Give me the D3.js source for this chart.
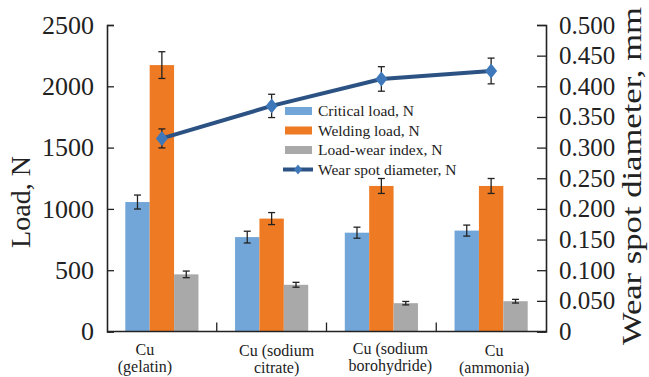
<!DOCTYPE html>
<html>
<head>
<meta charset="utf-8">
<script src="https://cdn.jsdelivr.net/npm/d3@7/dist/d3.min.js"></script>
<style>
  html, body { margin: 0; padding: 0; background: #fff; }
  svg { display: block; }
  text { font-family: "Liberation Serif", "Times New Roman", serif; fill: #222; }
</style>
</head>
<body>
<svg id="chart" width="649" height="377"></svg>
<script>
// ---- Data ----
const categories = [["Cu", "(gelatin)"], ["Cu (sodium", "citrate)"], ["Cu (sodium", "borohydride)"], ["Cu", "(ammonia)"]];
const seriesNames = ["Critical load, N", "Welding load, N", "Load-wear index, N"];
const criticalLoad = [1056, 770, 806, 823];
const criticalErr = [57, 48, 45, 45];
const weldingLoad = [2173, 921, 1187, 1187];
const weldingErr = [109, 49, 61, 61];
const loadWearIndex = [466, 381, 231, 247];
const loadWearErr = [27, 20, 14, 15];
const lineName = "Wear spot diameter, N";
const wearSpot = [0.315, 0.368, 0.412, 0.425];
const wearSpotErr = [0.0155, 0.019, 0.020, 0.021];
const leftTicks = [0, 500, 1000, 1500, 2000, 2500];
const rightTicks = [0, 0.05, 0.10, 0.15, 0.20, 0.25, 0.30, 0.35, 0.40, 0.45, 0.50];

// ---- Layout / style ----
const colors = ["#72a6d8", "#ee7a24", "#a9a9a9"];
const lineColor = "#2b5283";
const diamondColor = "#3f78ba";
const labelShift = [-17, 5, 9, 3];

const svg = d3.select("#chart");
const mLeft = 107, mRight = 546, mTop = 25, mBottom = 331.5;

const x = d3.scaleBand().domain(d3.range(categories.length)).range([mLeft, mRight]);
const x1 = d3.scaleBand().domain(d3.range(seriesNames.length)).range([0, x.bandwidth()]).paddingInner(0).paddingOuter(0.75);
const yL = d3.scaleLinear().domain([0, 2500]).range([mBottom, mTop]);
const yR = d3.scaleLinear().domain([0, 0.5]).range([mBottom, mTop]);

const barSeries = [
  { vals: criticalLoad, errs: criticalErr },
  { vals: weldingLoad, errs: weldingErr },
  { vals: loadWearIndex, errs: loadWearErr }
];

// bars
barSeries.forEach((s, si) => {
  svg.append("g").selectAll("rect").data(s.vals).join("rect")
    .attr("x", (d, i) => x(i) + x1(si))
    .attr("y", d => yL(d))
    .attr("width", x1.bandwidth())
    .attr("height", d => yL(0) - yL(d))
    .attr("fill", colors[si]);
});
// bar error bars
barSeries.forEach((s, si) => {
  const g = svg.append("g").attr("stroke", "#222").attr("stroke-width", 1.3);
  s.vals.forEach((v, i) => {
    const cx = x(i) + x1(si) + x1.bandwidth() / 2;
    const y1 = yL(v + s.errs[i]), y2 = yL(v - s.errs[i]);
    g.append("line").attr("x1", cx).attr("x2", cx).attr("y1", y1).attr("y2", y2);
    g.append("line").attr("x1", cx - 3.5).attr("x2", cx + 3.5).attr("y1", y1).attr("y2", y1);
    g.append("line").attr("x1", cx - 3.5).attr("x2", cx + 3.5).attr("y1", y2).attr("y2", y2);
  });
});

// axes
const axL = svg.append("g").attr("transform", `translate(${mLeft},0)`)
  .call(d3.axisLeft(yL).tickValues(leftTicks).tickSize(-7).tickPadding(13).tickFormat(d3.format("d")));
const axR = svg.append("g").attr("transform", `translate(${mRight},0)`)
  .call(d3.axisRight(yR).tickValues(rightTicks).tickSize(-9).tickPadding(13).tickFormat(d => d === 0 ? "0" : d3.format(".3f")(d)));
const axB = svg.append("g").attr("transform", `translate(0,${mBottom})`)
  .call(d3.axisBottom(x).tickSize(0).tickFormat(""));
[axL, axR, axB].forEach(a => {
  a.select(".domain").attr("stroke", "#222").attr("stroke-width", 1.6);
  a.selectAll(".tick line").attr("stroke", "#222").attr("stroke-width", 1.3);
});
axL.selectAll(".tick text").attr("font-size", 26).attr("fill", "#222").attr("font-family", "Liberation Serif");
axR.selectAll(".tick text").attr("font-size", 25).attr("fill", "#222").attr("font-family", "Liberation Serif");
axB.select(".domain").attr("d", `M${mLeft},0H${mRight}`);

// category dividers
svg.append("g").selectAll("line").data(d3.range(1, categories.length)).join("line")
  .attr("x1", i => x(i)).attr("x2", i => x(i))
  .attr("y1", mBottom).attr("y2", mBottom - 9)
  .attr("stroke", "#222").attr("stroke-width", 1.3);

// category labels
const lineBase = [[355, 372], [356, 373], [354, 371], [356, 373]];
categories.forEach((lines, i) => {
  const t = svg.append("text").attr("text-anchor", "middle").attr("font-size", 16);
  lines.forEach((ln, k) => {
    t.append("tspan").attr("x", x(i) + x.bandwidth() / 2 + labelShift[i]).attr("y", lineBase[i][k]).text(ln);
  });
});

// line series
const cxs = d3.range(wearSpot.length).map(i => x(i) + x.bandwidth() / 2);
svg.append("path")
  .datum(wearSpot)
  .attr("d", d3.line().x((d, i) => cxs[i]).y(d => yR(d)))
  .attr("fill", "none").attr("stroke", lineColor).attr("stroke-width", 4);
const ge = svg.append("g").attr("stroke", "#222").attr("stroke-width", 1.3);
wearSpot.forEach((v, i) => {
  const y1 = yR(v + wearSpotErr[i]), y2 = yR(v - wearSpotErr[i]);
  ge.append("line").attr("x1", cxs[i]).attr("x2", cxs[i]).attr("y1", y1).attr("y2", y2);
  ge.append("line").attr("x1", cxs[i] - 3.5).attr("x2", cxs[i] + 3.5).attr("y1", y1).attr("y2", y1);
  ge.append("line").attr("x1", cxs[i] - 3.5).attr("x2", cxs[i] + 3.5).attr("y1", y2).attr("y2", y2);
});
const diamond = "M0,-7.5L6,0L0,7.5L-6,0Z";
svg.append("g").selectAll("path").data(wearSpot).join("path")
  .attr("d", diamond)
  .attr("transform", (d, i) => `translate(${cxs[i]},${yR(d)})`)
  .attr("fill", diamondColor);

// legend
const lg = svg.append("g").attr("transform", "translate(285,111)");
seriesNames.forEach((n, i) => {
  lg.append("rect").attr("x", 0).attr("y", i * 19.5 - 4).attr("width", 27).attr("height", 8).attr("fill", colors[i]);
  lg.append("text").attr("x", 33).attr("y", i * 19.5).attr("dy", "0.35em").attr("font-size", 15.5).text(n);
});
lg.append("line").attr("x1", -2).attr("x2", 28).attr("y1", 3 * 19.5).attr("y2", 3 * 19.5)
  .attr("stroke", lineColor).attr("stroke-width", 4);
lg.append("path").attr("d", "M0,-5L4,0L0,5L-4,0Z").attr("transform", `translate(13,${3 * 19.5})`).attr("fill", diamondColor);
lg.append("text").attr("x", 33).attr("y", 3 * 19.5).attr("dy", "0.35em").attr("font-size", 15.5).text(lineName);

// axis titles
svg.append("text").attr("transform", "translate(30,202) rotate(-90)")
  .attr("text-anchor", "middle").attr("font-size", 28).text("Load, N");
svg.append("text").attr("transform", "translate(641,176) rotate(-90)")
  .attr("text-anchor", "middle").attr("font-size", 27)
  .attr("textLength", 338).attr("lengthAdjust", "spacingAndGlyphs")
  .text("Wear spot diameter, mm");
</script>
</body>
</html>
